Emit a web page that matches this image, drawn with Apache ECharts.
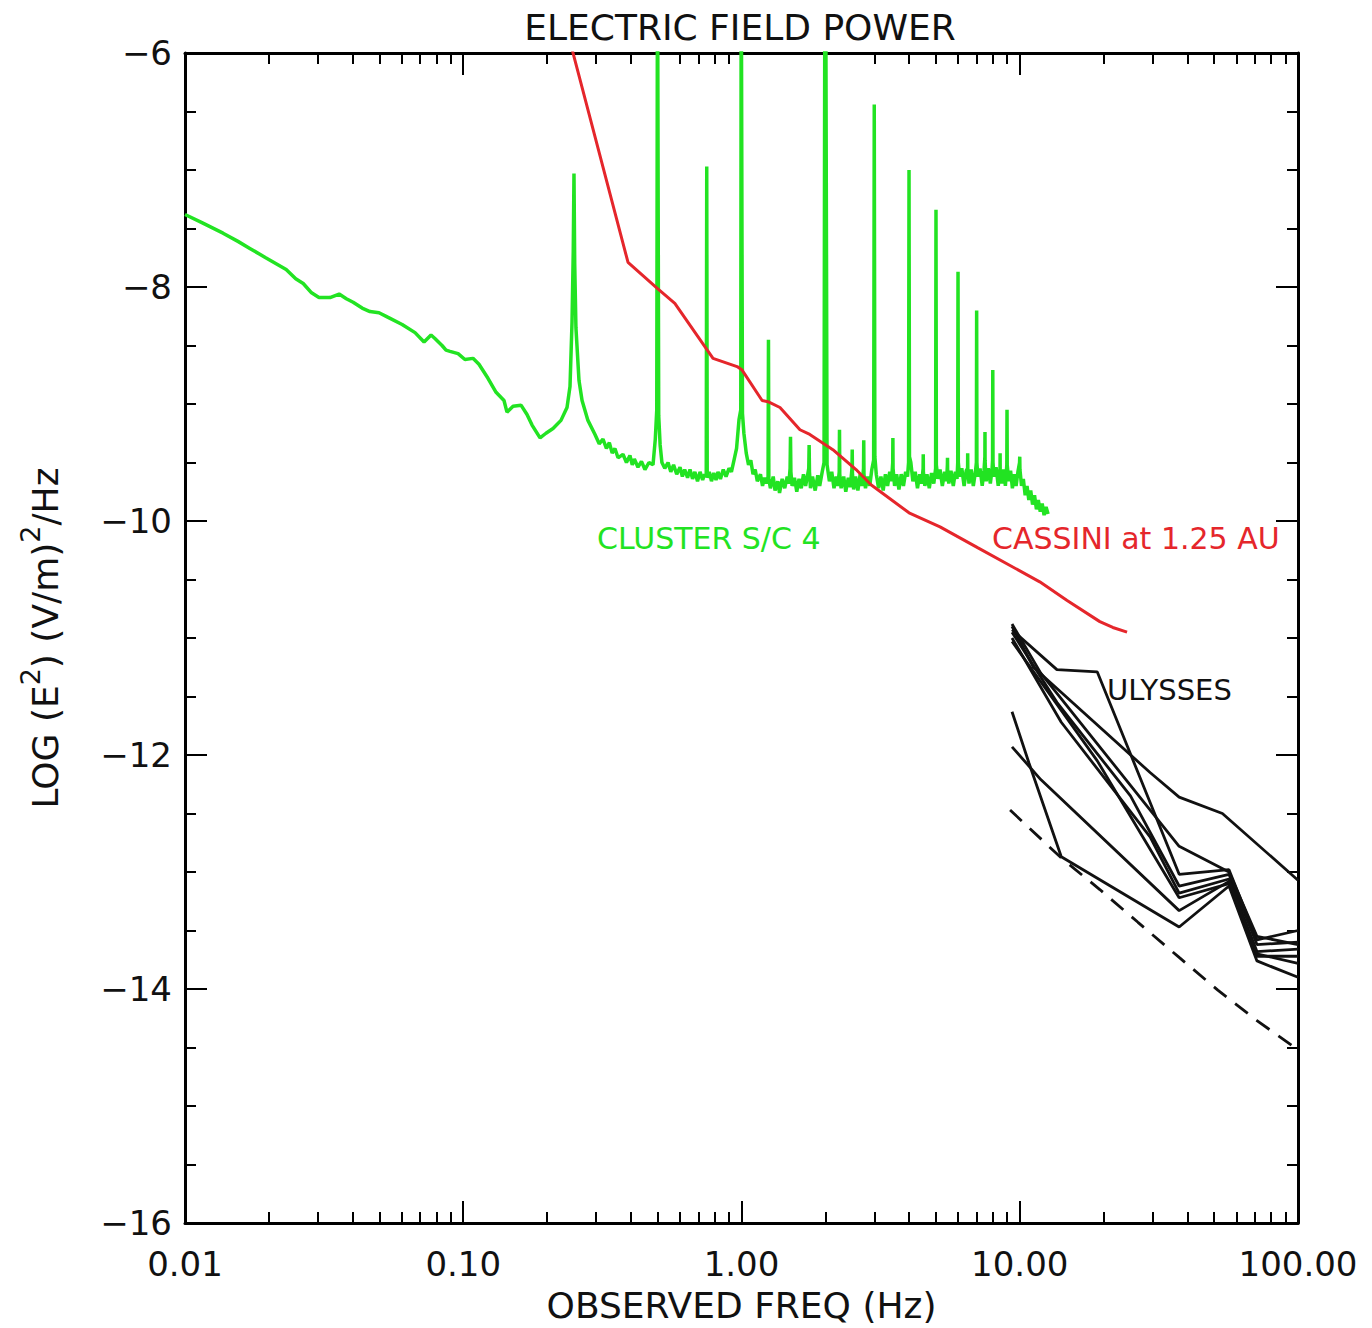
<!DOCTYPE html>
<html><head><meta charset="utf-8">
<script src="https://cdn.jsdelivr.net/npm/echarts@6/dist/echarts.min.js"></script>
<style>html,body{margin:0;padding:0;background:#fff}#c{width:1372px;height:1328px}</style>
</head><body><div id="c"></div>
<script>
// ---- axis ticks ----
const xMajorTicks = [0.01, 0.1, 1, 10, 100];
const xMinorTicks = [0.02,0.03,0.04,0.05,0.06,0.07,0.08,0.09,
                     0.2,0.3,0.4,0.5,0.6,0.7,0.8,0.9,
                     2,3,4,5,6,7,8,9,
                     20,30,40,50,60,70,80,90];
const yMin = -16, yMax = -6, yStep = 2;

// ---- CLUSTER S/C 4 spectrum [freq Hz, log power] ----
const cluster = [
 [0.0100,-7.38],[0.0115,-7.45],[0.0137,-7.54],[0.0155,-7.61],[0.0171,-7.67],[0.0195,-7.75],[0.0231,-7.85],[0.0250,-7.93],
 [0.0266,-7.97],[0.0285,-8.05],[0.0303,-8.09],[0.0332,-8.09],[0.0358,-8.06],[0.0380,-8.10],[0.0402,-8.13],[0.0433,-8.18],
 [0.0462,-8.21],[0.0498,-8.22],[0.0537,-8.26],[0.0603,-8.32],[0.0671,-8.39],[0.0723,-8.47],[0.0766,-8.41],[0.0791,-8.44],
 [0.0839,-8.50],[0.0867,-8.54],[0.0896,-8.55],[0.0958,-8.57],[0.1014,-8.62],[0.1084,-8.61],[0.1139,-8.66],[0.1227,-8.78],
 [0.1312,-8.90],[0.1401,-8.97],[0.1436,-9.07],[0.1510,-9.02],[0.1613,-9.01],[0.1695,-9.09],[0.1767,-9.18],[0.1888,-9.29],
 [0.1983,-9.25],[0.2102,-9.21],[0.2245,-9.14],[0.2360,-9.03],[0.2419,-8.85],[0.2460,-8.30],[0.2485,-7.70],[0.2500,-7.03],
 [0.2515,-7.80],[0.2541,-8.35],[0.2606,-8.80],[0.2673,-8.97],[0.2806,-9.14],[0.2975,-9.26],[0.3080,-9.34],[0.3178,-9.30],
 [0.3270,-9.38],[0.3350,-9.33],[0.3430,-9.42],[0.3508,-9.38],[0.3600,-9.46],[0.3750,-9.43],[0.3860,-9.50],[0.3972,-9.44],
 [0.4050,-9.52],[0.4120,-9.47],[0.4246,-9.54],[0.4370,-9.49],[0.4498,-9.56],[0.4650,-9.50],[0.4808,-9.52],[0.4900,-9.30],
 [0.4960,-9.05],[0.4990,-5.00],[0.5010,-5.00],[0.5040,-9.10],[0.5100,-9.35],[0.5176,-9.50],[0.5300,-9.55],[0.5445,-9.50],
 [0.5570,-9.58],[0.5700,-9.52],[0.5850,-9.60],[0.6012,-9.54],[0.6130,-9.62],[0.6250,-9.56],[0.6400,-9.63],[0.6530,-9.56],
 [0.6670,-9.64],[0.6800,-9.58],[0.6950,-9.66],[0.7096,-9.58],[0.7250,-9.65],[0.7370,-9.60],[0.7470,-9.62],[0.7500,-6.97],
 [0.7530,-9.63],[0.7660,-9.58],[0.7800,-9.66],[0.7950,-9.59],[0.8100,-9.65],[0.8232,-9.58],[0.8400,-9.64],[0.8600,-9.56],
 [0.8800,-9.62],[0.9016,-9.55],[0.9200,-9.58],[0.9400,-9.48],[0.9600,-9.38],[0.9800,-9.13],[0.9940,-9.05],[0.9975,-5.00],
 [1.0025,-5.00],[1.0080,-9.08],[1.020,-9.25],[1.040,-9.42],[1.060,-9.52],[1.080,-9.48],[1.100,-9.60],[1.120,-9.56],
 [1.140,-9.66],[1.170,-9.60],[1.190,-9.70],[1.210,-9.63],[1.230,-9.68],[1.246,-9.62],[1.250,-8.45],[1.254,-9.64],
 [1.270,-9.72],[1.300,-9.62],[1.320,-9.74],[1.350,-9.66],[1.370,-9.76],[1.400,-9.64],[1.430,-9.72],[1.460,-9.62],
 [1.480,-9.68],[1.495,-9.55],[1.500,-9.28],[1.505,-9.58],[1.520,-9.70],[1.550,-9.63],[1.580,-9.75],[1.610,-9.64],
 [1.640,-9.72],[1.670,-9.60],[1.700,-9.70],[1.730,-9.60],[1.745,-9.55],[1.750,-9.35],[1.755,-9.58],[1.770,-9.72],
 [1.800,-9.62],[1.840,-9.74],[1.880,-9.61],[1.910,-9.70],[1.950,-9.58],[1.980,-9.50],[1.994,-5.00],[2.006,-5.00],
 [2.030,-9.52],[2.070,-9.66],[2.110,-9.58],[2.150,-9.72],[2.190,-9.62],[2.220,-9.70],[2.245,-9.58],[2.250,-9.22],
 [2.255,-9.60],[2.280,-9.72],[2.330,-9.62],[2.370,-9.75],[2.420,-9.63],[2.460,-9.71],[2.495,-9.55],[2.500,-9.39],
 [2.505,-9.60],[2.530,-9.73],[2.570,-9.62],[2.620,-9.74],[2.670,-9.60],[2.710,-9.70],[2.745,-9.55],[2.750,-9.31],
 [2.755,-9.60],[2.790,-9.72],[2.840,-9.62],[2.890,-9.70],[2.940,-9.56],[2.985,-9.48],[3.000,-6.44],[3.015,-9.45],
 [3.050,-9.60],[3.110,-9.72],[3.170,-9.62],[3.230,-9.74],[3.290,-9.60],[3.350,-9.70],[3.410,-9.58],[3.460,-9.66],
 [3.495,-9.50],[3.500,-9.29],[3.505,-9.55],[3.550,-9.70],[3.610,-9.60],[3.680,-9.73],[3.750,-9.60],[3.820,-9.70],
 [3.890,-9.58],[3.950,-9.62],[3.985,-9.50],[4.000,-7.00],[4.015,-9.45],[4.060,-9.50],[4.130,-9.66],[4.210,-9.58],
 [4.290,-9.72],[4.370,-9.60],[4.440,-9.68],[4.495,-9.55],[4.500,-9.43],[4.505,-9.58],[4.560,-9.70],[4.640,-9.60],
 [4.730,-9.72],[4.820,-9.59],[4.910,-9.68],[4.985,-9.55],[5.000,-7.34],[5.015,-9.52],[5.080,-9.64],[5.170,-9.56],
 [5.270,-9.70],[5.370,-9.58],[5.460,-9.66],[5.495,-9.52],[5.500,-9.46],[5.505,-9.56],[5.560,-9.68],[5.660,-9.57],
 [5.770,-9.70],[5.870,-9.58],[5.950,-9.64],[5.985,-9.50],[6.000,-7.87],[6.015,-9.50],[6.080,-9.62],[6.190,-9.55],
 [6.310,-9.70],[6.420,-9.57],[6.495,-9.55],[6.500,-9.42],[6.505,-9.56],[6.570,-9.68],[6.690,-9.56],[6.810,-9.70],
 [6.930,-9.58],[6.985,-9.50],[7.000,-8.20],[7.015,-9.50],[7.070,-9.62],[7.200,-9.55],[7.330,-9.70],[7.440,-9.57],
 [7.495,-9.45],[7.500,-9.24],[7.505,-9.48],[7.570,-9.66],[7.710,-9.55],[7.840,-9.68],[7.950,-9.56],[7.985,-9.48],
 [8.000,-8.71],[8.015,-9.50],[8.070,-9.62],[8.220,-9.54],[8.370,-9.70],[8.495,-9.55],[8.500,-9.42],[8.505,-9.58],
 [8.620,-9.68],[8.760,-9.56],[8.880,-9.70],[8.985,-9.52],[9.000,-9.05],[9.015,-9.52],[9.130,-9.66],[9.270,-9.57],
 [9.410,-9.72],[9.550,-9.60],[9.700,-9.70],[9.850,-9.58],[9.985,-9.50],[10.00,-9.45],[10.015,-9.56],[10.15,-9.70],
 [10.30,-9.64],[10.46,-9.78],[10.62,-9.70],[10.78,-9.82],[10.95,-9.74],[11.12,-9.86],[11.30,-9.78],[11.48,-9.90],
 [11.66,-9.82],[11.85,-9.92],[12.04,-9.85],[12.23,-9.95],[12.43,-9.88],[12.64,-9.94]
];

// ---- CASSINI at 1.25 AU ----
const cassini = [
 [0.240,-5.87],[0.391,-7.79],[0.497,-8.01],[0.576,-8.14],[0.790,-8.61],[0.964,-8.68],[1.005,-8.71],
 [1.186,-8.97],[1.245,-8.98],[1.375,-9.03],[1.622,-9.22],[1.76,-9.26],[2.13,-9.39],[2.58,-9.56],
 [2.92,-9.69],[4.00,-9.93],[5.17,-10.05],[7.08,-10.23],[11.8,-10.52],[14.8,-10.68],[19.4,-10.86],
 [21.6,-10.91],[24.3,-10.95]
];

// ---- ULYSSES spectra ----
const uly1 = [[9.38,-10.90],[11.2,-11.25],[29.4,-12.15],[37.4,-12.36],[53.5,-12.50],[100,-13.07]];
const uly2 = [[9.38,-10.93],[13.6,-11.27],[19.0,-11.29],[37.4,-13.02],[56.5,-12.98],[71.2,-13.58],[100,-13.50]];
const uly3 = [[9.38,-10.95],[13.6,-11.55],[25.0,-12.35],[37.4,-13.12],[56.5,-13.02],[71.2,-13.62],[100,-13.60]];
const uly4 = [[9.38,-11.00],[14.1,-11.72],[29.4,-12.70],[37.4,-13.18],[56.5,-13.06],[71.2,-13.68],[100,-13.66]];
const uly5 = [[9.38,-11.03],[19.0,-12.05],[37.4,-13.22],[56.5,-13.10],[71.2,-13.72],[100,-13.72]];
const uly6 = [[9.38,-10.88],[11.9,-11.30],[37.4,-12.78],[56.5,-13.00],[71.2,-13.55],[100,-13.62]];
const uly7 = [[9.38,-11.63],[10.8,-12.07],[14.1,-12.87],[37.4,-13.47],[56.5,-13.12],[71.2,-13.76],[100,-13.90]];
const uly8 = [[9.38,-11.93],[11.9,-12.21],[37.4,-13.33],[56.5,-13.08],[71.2,-13.70],[100,-13.78]];
const ulyDashed = [[9.23,-12.47],[14.1,-12.88],[19.4,-13.15],[26.6,-13.43],[37.4,-13.73],[51.5,-14.01],[71.2,-14.27],[100,-14.52]];

const FONT = '"DejaVu Sans", sans-serif';
const GREEN = '#22e322', RED = '#e5262b', BLACK = '#111';

const chart = echarts.init(document.getElementById('c'), null, {renderer: 'svg'});

function xAxisDef(pos, major, showLine, withLabel) {
  return {
    type: 'log', logBase: 10, min: 0.01, max: 100, position: pos,
    axisLine: {show: showLine, onZero: false, lineStyle: {color: '#000', width: 3}},
    axisTick: {show: true, inside: true, length: major ? 22 : 11,
               customValues: major ? xMajorTicks : xMinorTicks,
               lineStyle: {color: '#000', width: 2}},
    axisLabel: withLabel ? {show: true, customValues: xMajorTicks, margin: 24,
               fontSize: 34, fontFamily: FONT, color: BLACK,
               formatter: v => Number(v).toFixed(2)} : {show: false},
    splitLine: {show: false}, minorTick: {show: false}, minorSplitLine: {show: false},
    name: withLabel ? 'OBSERVED FREQ (Hz)' : '',
    nameLocation: 'middle', nameGap: 64,
    nameTextStyle: {fontSize: 36, fontFamily: FONT, color: BLACK}
  };
}
function yAxisDef(pos, withLabel) {
  return {
    type: 'value', min: yMin, max: yMax, interval: yStep, position: pos,
    axisLine: {show: true, onZero: false, lineStyle: {color: '#000', width: 3}},
    axisTick: {show: true, inside: true, length: 22, lineStyle: {color: '#000', width: 2}},
    minorTick: {show: true, splitNumber: 4, length: 11, lineStyle: {color: '#000', width: 2}},
    axisLabel: withLabel ? {show: true, margin: 13, fontSize: 34, fontFamily: FONT, color: BLACK,
               formatter: v => (v < 0 ? '\u2212' : '') + Math.abs(v)} : {show: false},
    splitLine: {show: false}, minorSplitLine: {show: false},
    name: withLabel ? '{a|LOG (E}{s|2}{a|) (V/m)}{s|2}{a|/Hz}' : '',
    nameLocation: 'middle', nameRotate: 90, nameGap: 112,
    nameTextStyle: {
      rich: {
        a: {fontSize: 36, fontFamily: FONT, color: BLACK, lineHeight: 56},
        s: {fontSize: 27, fontFamily: FONT, color: BLACK, lineHeight: 27, verticalAlign: 'top'}
      }
    }
  };
}

function blackLine(data, dashed) {
  return {type: 'line', data: data, xAxisIndex: 0, yAxisIndex: 0, showSymbol: false, symbol: 'none',
          lineStyle: {color: BLACK, width: 2.8, type: dashed ? [16, 11] : 'solid'},
          z: 3, silent: true, animation: false};
}

chart.setOption({
  animation: false,
  backgroundColor: '#fff',
  grid: {left: 185, right: 74, top: 53, bottom: 105, containLabel: false},
  xAxis: [
    xAxisDef('bottom', true, true, true),
    xAxisDef('bottom', false, false, false),
    xAxisDef('top', true, true, false),
    xAxisDef('top', false, false, false)
  ],
  yAxis: [yAxisDef('left', true), yAxisDef('right', false)],
  graphic: [
    {type: 'text', x: 740, y: 27, style: {text: 'ELECTRIC FIELD POWER', fontSize: 36, fontFamily: FONT,
      fill: BLACK, align: 'center', verticalAlign: 'middle'}},
    {type: 'text', x: 597, y: 538, style: {text: 'CLUSTER S/C 4', fontSize: 30, fontFamily: FONT,
      fill: GREEN, align: 'left', verticalAlign: 'middle'}},
    {type: 'text', x: 992, y: 538, style: {text: 'CASSINI at 1.25 AU', fontSize: 30, fontFamily: FONT,
      fill: RED, align: 'left', verticalAlign: 'middle'}},
    {type: 'text', x: 1107, y: 690, style: {text: 'ULYSSES', fontSize: 29, fontFamily: FONT,
      fill: BLACK, align: 'left', verticalAlign: 'middle'}}
  ],
  series: [
    {type: 'line', name: 'CLUSTER S/C 4', data: cluster, xAxisIndex: 0, yAxisIndex: 0,
     showSymbol: false, symbol: 'none', lineStyle: {color: GREEN, width: 3.5}, z: 2, clip: true},
    {type: 'line', name: 'CASSINI', data: cassini, xAxisIndex: 0, yAxisIndex: 0,
     showSymbol: false, symbol: 'none', lineStyle: {color: RED, width: 3}, z: 4, clip: true},
    blackLine(uly1), blackLine(uly2), blackLine(uly3), blackLine(uly4),
    blackLine(uly5), blackLine(uly6), blackLine(uly7), blackLine(uly8),
    blackLine(ulyDashed, true)
  ]
});
</script>
</body></html>
